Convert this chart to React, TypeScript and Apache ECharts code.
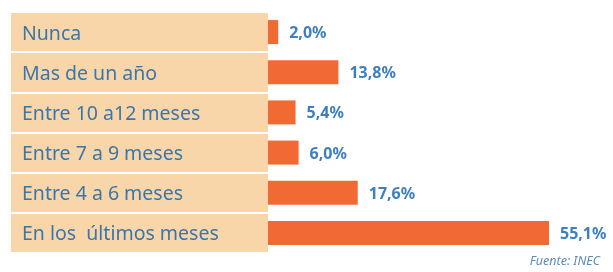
import React, { useEffect, useRef } from "react";
import * as echarts from "echarts";

const categories = [
  "Nunca",
  "Mas de un año",
  "Entre 10 a12 meses",
  "Entre 7 a 9 meses",
  "Entre 4 a 6 meses",
  "En los  últimos meses",
];
const values = [2.0, 13.8, 5.4, 6.0, 17.6, 55.1];
const sourceText = "Fuente: INEC";

export default function App() {
  const ref = useRef<HTMLDivElement>(null);
  useEffect(() => {
    if (!ref.current) return;
    const chart = echarts.init(ref.current, null, { renderer: "svg" });
    chart.setOption({
      animation: false,
      title: {
        text: sourceText,
        right: 13,
        top: 254,
        padding: 0,
        textStyle: {
          fontFamily: "Noto Sans",
          fontStyle: "italic",
          fontWeight: "normal",
          fontSize: 12.5,
          color: "#5B8BB8",
        },
      },
      grid: [
        { left: 11, top: 12, width: 257, height: 241 },
        { left: 268, top: 12, width: 306, height: 241 },
      ],
      xAxis: [
        { gridIndex: 0, type: "value", min: 0, max: 1, show: false },
        { gridIndex: 1, type: "value", min: 0, max: 60, show: false },
      ],
      yAxis: [
        {
          gridIndex: 0,
          type: "category",
          data: categories,
          inverse: true,
          axisLine: { show: false },
          axisTick: { show: false },
          axisLabel: {
            inside: true,
            margin: 11,
            align: "left",
            fontFamily: "Noto Sans",
            fontSize: 19.5,
            color: "#3A76A8",
          },
          splitArea: { show: true, areaStyle: { color: ["#F9D6A9", "#F9D6A9"] } },
          splitLine: { show: true, lineStyle: { color: "#ffffff", width: 2 } },
        },
        {
          gridIndex: 1,
          type: "category",
          data: categories,
          inverse: true,
          show: false,
        },
      ],
      series: [
        {
          type: "bar",
          xAxisIndex: 1,
          yAxisIndex: 1,
          data: values,
          barWidth: 24,
          itemStyle: { color: "#F26A33" },
          label: {
            show: true,
            position: "right",
            distance: 11,
            formatter: (p: any) => p.value.toFixed(1).replace(".", ",") + "%",
            fontFamily: "Noto Sans",
            fontWeight: "bold",
            fontSize: 16,
            color: "#3D7FC1",
          },
        },
      ],
    });
    return () => chart.dispose();
  }, []);
  return (
    <div
      ref={ref}
      style={{ position: "fixed", left: 0, top: 0, width: 613, height: 272 }}
    />
  );
}
